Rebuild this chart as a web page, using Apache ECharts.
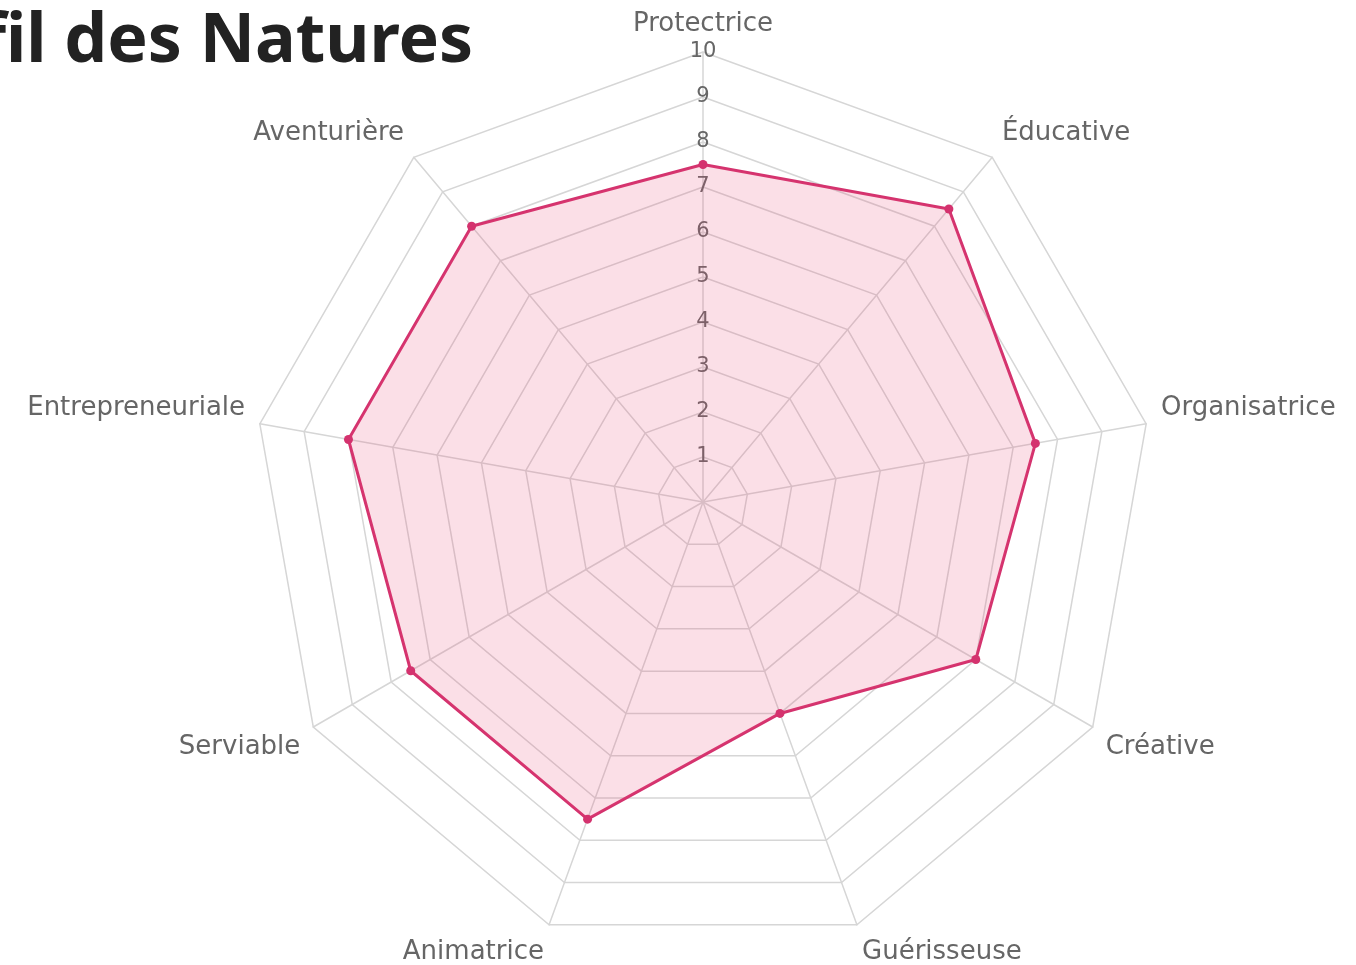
<!DOCTYPE html>
<html>
<head>
<meta charset="utf-8">
<title>Profil des Natures</title>
<script src="https://cdn.jsdelivr.net/npm/echarts@6/dist/echarts.min.js"></script>
<style>
  html, body { margin: 0; padding: 0; background: #fff; }
  #chart { width: 1356px; height: 965px; }
</style>
</head>
<body>
<div id="chart"></div>
<script>
// axes du radar, dans le sens horaire depuis le haut
var natures = ['Protectrice', 'Éducative', 'Organisatrice', 'Créative', 'Guérisseuse',
               'Animatrice', 'Serviable', 'Entrepreneuriale', 'Aventurière'];
// scores
var scores = [7.5, 8.5, 7.5, 7, 5, 7.5, 7.5, 8, 8];
var scoreMax = 10;

var dom = document.getElementById('chart');
var myChart = echarts.init(dom);

// echarts tourne dans le sens antihoraire : on inverse l'ordre après le premier axe
var order = [0];
for (var k = natures.length - 1; k > 0; k--) order.push(k);

var indicators = order.map(function (i, pos) {
    var angle = pos * 2 * Math.PI / natures.length;
    var ind = {
        name: natures[i],
        max: scoreMax,
        min: 0,
        nameMoveOverlap: false,
        nameTextStyle: {}
    };
    // nom au-dessus du point pour la moitié haute, en dessous pour la moitié basse
    if (Math.cos(angle) > 0.01) ind.nameTextStyle.verticalAlign = 'bottom';
    else if (Math.cos(angle) < -0.01) ind.nameTextStyle.verticalAlign = 'top';
    // graduations seulement sur le premier axe
    if (pos === 0) {
        ind.axisLabel = {
            show: true,
            showMinLabel: false,
            align: 'center',
            verticalAlign: 'middle',
            margin: 0,
            padding: [0, 0, 8, 0],
            color: '#666',
            fontSize: 21,
            fontFamily: 'DejaVu Sans'
        };
    }
    return ind;
});

var values = order.map(function (i) { return scores[i]; });

var option = {
    animation: false,
    title: {
        text: 'Profil des Natures',
        left: -134,
        top: 9,
        padding: 0,
        textStyle: {
            fontFamily: 'Noto Sans',
            fontWeight: 'bold',
            fontSize: 68,
            color: '#222'
        }
    },
    radar: {
        center: [703, 502],
        radius: 450,
        startAngle: 90,
        splitNumber: 10,
        shape: 'polygon',
        axisNameGap: 15,
        axisName: {
            color: '#666',
            fontSize: 26,
            fontFamily: 'DejaVu Sans'
        },
        axisLabel: { show: false },
        axisTick: { show: false },
        axisLine: { lineStyle: { color: '#d6d6d6', width: 1.5 } },
        splitLine: { lineStyle: { color: '#d6d6d6', width: 1.5 } },
        splitArea: { show: false },
        indicator: indicators
    },
    series: [{
        type: 'radar',
        symbol: 'circle',
        symbolSize: 9,
        lineStyle: { color: '#d4326e', width: 3 },
        itemStyle: { color: '#d4326e' },
        areaStyle: { color: 'rgba(234, 72, 118, 0.25)' },
        data: [{ value: values, name: 'Profil' }]
    }]
};

if (option && typeof option === 'object') {
    myChart.setOption(option, true);
}
</script>
</body>
</html>
